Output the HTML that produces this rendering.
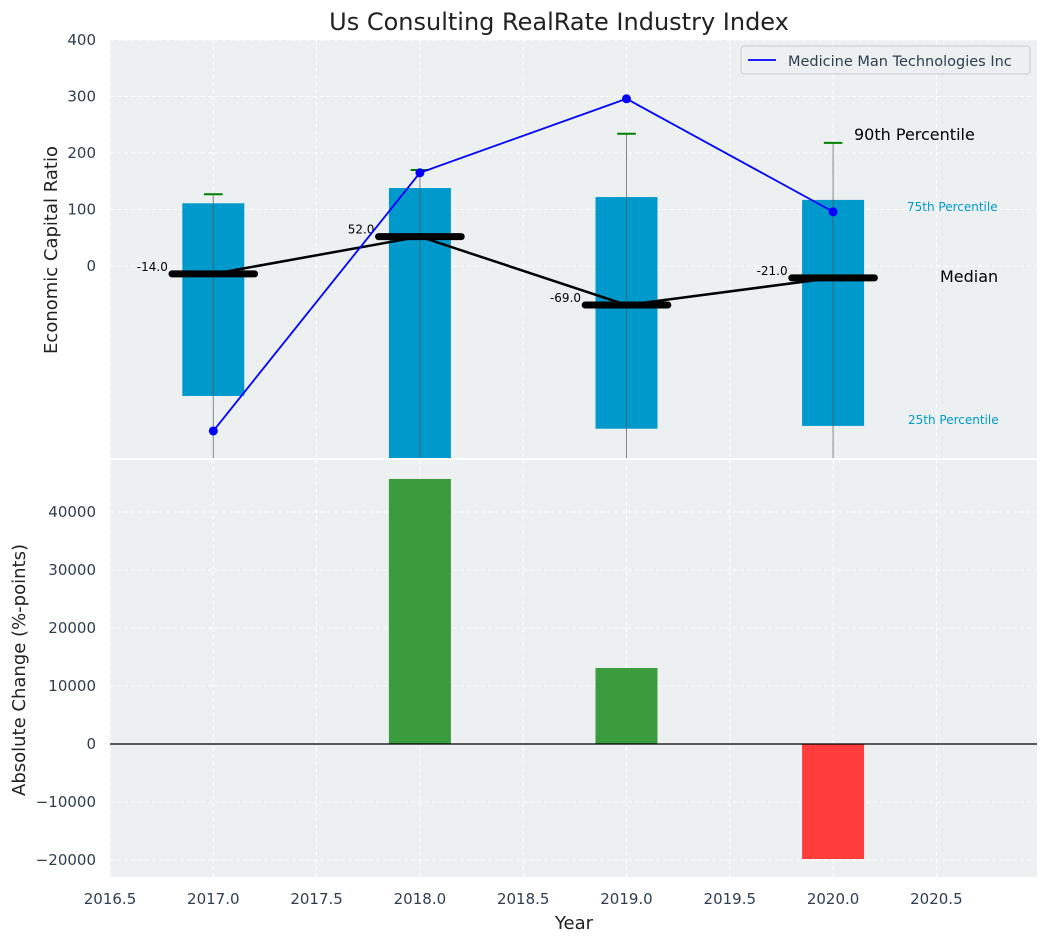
<!DOCTYPE html>
<html><head><meta charset="utf-8"><style>
body{margin:0;background:#fff;font-family:"Liberation Sans","DejaVu Sans",sans-serif}
svg text{font-family:"DejaVu Sans","Liberation Sans",sans-serif}
</style></head><body>
<svg id="c" width="1048" height="942" xmlns="http://www.w3.org/2000/svg"></svg>
<script>
const years=[2017,2018,2019,2020];
const p25=[-230,-345,-288,-283];
const p75=[111,138,122,117];
const p90=[127,170,234,218];
const medians=[-14,52,-69,-21];
const company=[-292,165,296,96];
const changes=[0,45700,13100,-19830];
const xTicks=[2016.5,2017,2017.5,2018,2018.5,2019,2019.5,2020,2020.5];
const yTopTicks=[0,100,200,300,400];
const yBotTicks=[-20000,-10000,0,10000,20000,30000,40000];

const NS="http://www.w3.org/2000/svg";
const svg=document.getElementById('c');
const L=110,R=1037,T1=40,B1=458,T2=460,B2=877;
const X=v=>L+(v-2016.5)/(2020.987-2016.5)*(R-L);
const Y1=v=>266-v*0.565;
const Y2=v=>744-v*0.0058;
function mk(tag,attrs,parent,name,inter){const e=document.createElementNS(NS,tag);for(const k in attrs)e.setAttribute(k,attrs[k]);


(parent||svg).appendChild(e);return e;}
function txt(s,attrs,name){const e=mk('text',attrs,svg,name);e.textContent=s;return e;}

mk('rect',{x:L,y:T1,width:R-L,height:B1-T1,fill:'#ecf0f1'},svg,'top-plot-bg');
mk('rect',{x:L,y:T2,width:R-L,height:B2-T2,fill:'#ecf0f1'},svg,'bottom-plot-bg');
xTicks.forEach(t=>{[[T1,B1],[T2,B2]].forEach(([a,b])=>mk('line',{x1:X(t),x2:X(t),y1:a,y2:b,stroke:'#fff','stroke-dasharray':'4,3','stroke-width':1},svg,'x-grid-line'));});
yTopTicks.forEach(t=>{mk('line',{x1:L,x2:R,y1:Y1(t),y2:Y1(t),stroke:'#fff','stroke-dasharray':'4,3'},svg,'y-grid-line');
txt(String(t),{x:96,y:Y1(t)+5,'text-anchor':'end','font-size':15,fill:'#2c3e50'},'y-tick-label');});
yBotTicks.forEach(t=>{mk('line',{x1:L,x2:R,y1:Y2(t),y2:Y2(t),stroke:'#fff','stroke-dasharray':'4,3'},svg,'y-grid-line');
txt(String(t).replace('-','−'),{x:96,y:Y2(t)+5,'text-anchor':'end','font-size':15,fill:'#2c3e50'},'y-tick-label');});
xTicks.forEach(t=>txt(t.toFixed(1),{x:X(t),y:904,'text-anchor':'middle','font-size':15,fill:'#2c3e50'},'x-tick-label'));

const defs=mk('defs',{},svg,'defs');
const cp=mk('clipPath',{id:'cp1'},defs,'clip');
mk('rect',{x:L,y:T1,width:R-L,height:B1-T1},cp,'clip-rect');
const g=mk('g',{'clip-path':'url(#cp1)'},svg,'top-plot');
const bw=0.3;
years.forEach((yr,i)=>{
 mk('rect',{x:X(yr-bw/2),y:Y1(p75[i]),width:X(yr+bw/2)-X(yr-bw/2),height:Y1(p25[i])-Y1(p75[i]),fill:'#0099cc'},g,'iqr-box');
 mk('line',{x1:X(yr),x2:X(yr),y1:Y1(p90[i]),y2:B1+10,stroke:'#555','stroke-width':1,opacity:0.7},g,'whisker');
 mk('line',{x1:X(yr-0.045),x2:X(yr+0.045),y1:Y1(p90[i]),y2:Y1(p90[i]),stroke:'green','stroke-width':2},g,'p90-cap');
});
mk('polyline',{points:years.map((y,i)=>X(y)+','+Y1(medians[i])).join(' '),fill:'none',stroke:'#000','stroke-width':2.5},g,'median-line');
years.forEach((yr,i)=>{
 mk('line',{x1:X(yr-0.2),x2:X(yr+0.2),y1:Y1(medians[i]),y2:Y1(medians[i]),stroke:'#000','stroke-width':7,'stroke-linecap':'round'},g,'median-bar');
 const t=mk('text',{x:X(yr-0.22),y:Y1(medians[i])-3,'text-anchor':'end','font-size':12,fill:'#000'},g,'median-label');t.textContent=medians[i].toFixed(1);
});
mk('polyline',{points:years.map((y,i)=>X(y)+','+Y1(company[i])).join(' '),fill:'none',stroke:'blue','stroke-width':1.8},g,'company-line');
years.forEach((yr,i)=>mk('circle',{cx:X(yr),cy:Y1(company[i]),r:4.5,fill:'blue'},g,'company-point'));

txt('90th Percentile',{x:854,y:140,'font-size':16,fill:'#000'},'p90-annotation');
txt('75th Percentile',{x:907,y:211,'font-size':12,fill:'#0099cc'},'p75-annotation');
txt('Median',{x:940,y:282,'font-size':16,fill:'#000'},'median-annotation');
txt('25th Percentile',{x:908,y:424,'font-size':12,fill:'#0099cc'},'p25-annotation');

mk('rect',{x:741,y:46,width:289,height:28,fill:'#ecf0f1',stroke:'#ccc',rx:3},svg,'legend-box');
mk('line',{x1:748,x2:776,y1:60,y2:60,stroke:'blue','stroke-width':1.8},svg,'legend-swatch');
txt('Medicine Man Technologies Inc',{x:788,y:66,'font-size':14.5,fill:'#2c3e50'},'legend-entry');

years.forEach((yr,i)=>{const v=changes[i];if(!v)return;
 mk('rect',{x:X(yr-0.15),y:Math.min(Y2(v),Y2(0)),width:X(yr+0.15)-X(yr-0.15),height:Math.abs(Y2(v)-Y2(0)),fill:v>0?'#3a9c3c':'#ff3d3d'},svg,'change-bar');});
mk('line',{x1:L,x2:R,y1:Y2(0),y2:Y2(0),stroke:'#000','stroke-width':1.2},svg,'zero-line');

txt('Us Consulting RealRate Industry Index',{x:559,y:30,'text-anchor':'middle','font-size':24,fill:'#222'},'chart-title');
txt('Economic Capital Ratio',{x:0,y:0,transform:'translate(57,250) rotate(-90)','text-anchor':'middle','font-size':18,fill:'#222'},'top-y-axis-title');
txt('Absolute Change (%-points)',{x:0,y:0,transform:'translate(25,670) rotate(-90)','text-anchor':'middle','font-size':18,fill:'#222'},'bottom-y-axis-title');
txt('Year',{x:574,y:929,'text-anchor':'middle','font-size':18,fill:'#222'},'x-axis-title');
</script>
</body></html>
